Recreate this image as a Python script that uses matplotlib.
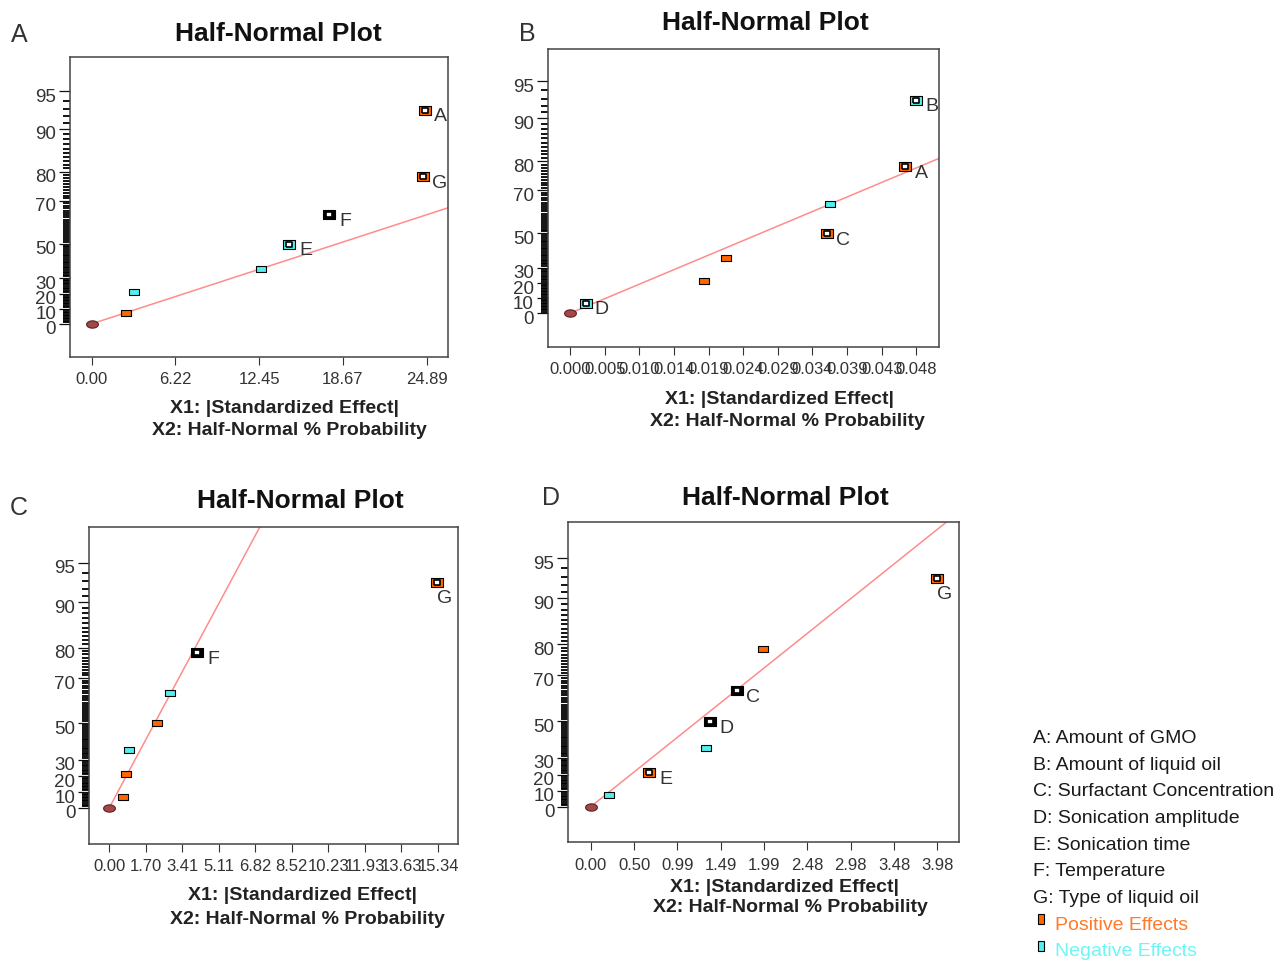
import numpy as np
import matplotlib
matplotlib.use('Agg')
import matplotlib.pyplot as plt
from matplotlib.transforms import ScaledTranslation
from statistics import NormalDist

plt.rcParams['font.family'] = ['Liberation Sans', 'DejaVu Sans']

# Half-normal % probability of each ranked effect (7 effects per design)
prob = [7.14, 21.43, 35.71, 50.0, 64.29, 78.57, 92.86]

# Panel A
effect_a = [2.52, 3.18, 12.56, 14.69, 17.65, 24.64, 24.76]
sign_a = ['pos', 'neg', 'neg', 'neg', 'sel', 'pos', 'pos']
name_a = ['', '', '', 'E', 'F', 'G', 'A']
xtick_a = ['0.00', '6.22', '12.45', '18.67', '24.89']
xmax_a = 24.89
line_a = (12.56, 35.71)

# Panel B
effect_b = [0.00218, 0.01869, 0.02171, 0.03572, 0.03619, 0.04667, 0.0482]
sign_b = ['neg', 'pos', 'pos', 'pos', 'neg', 'pos', 'neg']
name_b = ['D', '', '', 'C', '', 'A', 'B']
xtick_b = ['0.000', '0.005', '0.010', '0.014', '0.019', '0.024',
           '0.029', '0.034', '0.039', '0.043', '0.048']
xmax_b = 0.0482
line_b = (0.03619, 64.29)

# Panel C
effect_c = [0.62, 0.76, 0.90, 2.24, 2.82, 4.11, 15.29]
sign_c = ['pos', 'pos', 'neg', 'pos', 'neg', 'sel', 'pos']
name_c = ['', '', '', '', '', 'F', 'G']
xtick_c = ['0.00', '1.70', '3.41', '5.11', '6.82', '8.52',
           '10.23', '11.93', '13.63', '15.34']
xmax_c = 15.34
line_c = (5.0, 89.0)

# Panel D
effect_d = [0.214, 0.673, 1.320, 1.370, 1.672, 1.975, 3.972]
sign_d = ['neg', 'pos', 'neg', 'sel', 'sel', 'pos', 'pos']
name_d = ['', 'E', '', 'D', 'C', '', 'G']
xtick_d = ['0.00', '0.50', '0.99', '1.49', '1.99', '2.48', '2.98', '3.48', '3.98']
xmax_d = 3.975
line_d = (1.672, 64.29)

ytick_major = [0, 10, 20, 30, 50, 70, 80, 90, 95]
factors = ['A: Amount of GMO', 'B: Amount of liquid oil',
           'C: Surfactant Concentration', 'D: Sonication amplitude',
           'E: Sonication time', 'F: Temperature', 'G: Type of liquid oil']

fill = {'pos': '#FF6600', 'neg': '#55EEEE', 'sel': '#000000'}

# half-normal probability axis
nd = NormalDist()


def _p2z(p):
    q = min(abs(p) / 100.0, 0.9999999)
    return np.sign(p) * nd.inv_cdf((1 + q) / 2)


def _z2p(z):
    return np.sign(z) * (2 * nd.cdf(abs(z)) - 1) * 100.0


def fwd(p):
    return np.vectorize(_p2z, otypes=[float])(np.asarray(p, dtype=float))


def inv(z):
    return np.vectorize(_z2p, otypes=[float])(np.asarray(z, dtype=float))


rect = [(-1, -0.72), (1, -0.72), (1, 0.72), (-1, 0.72), (-1, -0.72)]
th = np.linspace(0, 2 * np.pi, 40)
oval = list(zip(np.cos(th), 0.62 * np.sin(th)))

W, H = 1286, 963
fig = plt.figure(figsize=(W / 100, H / 100), dpi=100)


def px_axes(l, t, r, b):
    return fig.add_axes([l / W, 1 - b / H, (r - l) / W, (b - t) / H])


def panel(ax, xs, signs, names, ticks, xmax, through, xlim, zlim, below=()):
    ax.set_yscale('function', functions=(fwd, inv))
    ax.set_xlim(*xlim)
    ax.set_ylim(inv(zlim[0]), inv(zlim[1]))

    # fitted line through the origin
    slope = _p2z(through[1]) / through[0]
    xe = min(xlim[1], 3.0 / slope)
    ax.plot([0, xe], [0, _z2p(slope * xe)], color='#FF8C8C', lw=1.1, zorder=2)

    ax.plot([0], [0], marker=oval, ms=8.5, color='#A34848', mec='#5C2222',
            mew=0.8, ls='none', zorder=4)
    for x, p, s, n in zip(xs, prob, signs, names):
        if n:
            ax.plot([x], [p], marker=rect, ms=9.0, color=fill[s], mec='black',
                    mew=0.8, ls='none', zorder=5)
            ax.plot([x], [p], marker=rect, ms=5.0, color='white', mec='black',
                    mew=1.2, ls='none', zorder=6)
            off = (8, -16) if n in below else (16, -7)
            ax.annotate(n, (x, p), xytext=off, textcoords='offset pixels',
                        ha='center', va='center', fontsize=14, color='#333333',
                        annotation_clip=False, clip_on=True, zorder=7)
        else:
            ax.plot([x], [p], marker=rect, ms=6.6, color=fill[s], mec='black',
                    mew=0.8, ls='none', zorder=5)

    ax.set_xticks(np.linspace(0, xmax, len(ticks)))
    ax.set_xticklabels(ticks)
    ax.set_yticks(ytick_major)
    ax.set_yticklabels([str(v) for v in ytick_major])
    ax.set_yticks([v for v in range(1, 95) if v not in ytick_major], minor=True)
    ax.tick_params(axis='x', length=6, width=0.8, pad=5, labelsize=12,
                   color='#333333', labelcolor='#333333')
    ax.tick_params(axis='y', which='major', length=8, width=0.9, pad=2,
                   labelsize=13.5, color='#111111', labelcolor='#333333')
    ax.tick_params(axis='y', which='minor', length=5, width=1.3,
                   color='#000000')
    for sp in ax.spines.values():
        sp.set_color('#444444')
        sp.set_linewidth(1.1)
    shift = ScaledTranslation(0, -4 / 100, fig.dpi_scale_trans)
    for lab in ax.get_yticklabels():
        lab.set_transform(lab.get_transform() + shift)


ax_a = px_axes(70, 57.3, 448.3, 356.7)
panel(ax_a, effect_a, sign_a, name_a, xtick_a, xmax_a, line_a,
      (-1.612, 26.495), (-0.277, 2.245))
ax_b = px_axes(547.7, 49, 939, 346.7)
panel(ax_b, effect_b, sign_b, name_b, xtick_b, xmax_b, line_b,
      (-0.003104, 0.05136), (-0.282, 2.230))
ax_c = px_axes(89.3, 526.7, 457.7, 844)
panel(ax_c, effect_c, sign_c, name_c, xtick_c, xmax_c, line_c,
      (-0.933, 16.259), (-0.29, 2.248), below=('G',))
ax_d = px_axes(568.3, 522.3, 959.3, 842.3)
panel(ax_d, effect_d, sign_d, name_d, xtick_d, xmax_d, line_d,
      (-0.257, 4.227), (-0.281, 2.245), below=('G',))


def ftext(x, y, s, **kw):
    fig.text(x / W, 1 - y / H, s, ha='center', va='center', **kw)


# titles, panel letters and axis captions
for (tx, ty), (lx, ly), (c1, y1), (c2, y2), letter in [
        ((278.5, 34), (19, 35), (285, 408), (289, 430), 'A'),
        ((765, 23), (527.5, 34), (780, 399), (787.5, 421.7), 'B'),
        ((300.5, 501), (19, 508.3), (302, 895.8), (307.5, 919.2), 'C'),
        ((785.8, 498.3), (550.5, 498.3), (784.7, 887.5), (790.8, 907.5), 'D')]:
    ftext(tx, ty, 'Half-Normal Plot', fontsize=19, fontweight='bold',
          color='#111111')
    ftext(lx, ly, letter, fontsize=18, color='#333333')
    ftext(c1, y1, 'X1: |Standardized Effect|', fontsize=14,
          fontweight='bold', color='#222222')
    ftext(c2, y2, 'X2: Half-Normal % Probability', fontsize=14,
          fontweight='bold', color='#222222')

# factor key
for i, s in enumerate(factors):
    fig.text(1033 / W, 1 - (738.3 + 26.7 * i) / H, s, ha='left',
             va='center', fontsize=14, color='#1a1a1a')
for i, (s, key, tc) in enumerate([('Positive Effects', 'pos', '#FF7A2A'),
                                  ('Negative Effects', 'neg', '#6FF5F5')]):
    y = 738.3 + 26.7 * (7 + i)
    fig.text(1055 / W, 1 - y / H, s, ha='left', va='center', fontsize=14,
             color=tc)
    fig.patches.append(plt.Rectangle(((1041 - 3) / W, 1 - (y - 1) / H),
                                     6 / W, 10 / H, transform=fig.transFigure,
                                     facecolor=fill[key], edgecolor='black',
                                     lw=0.8))

fig.savefig('out.png', dpi=100)
